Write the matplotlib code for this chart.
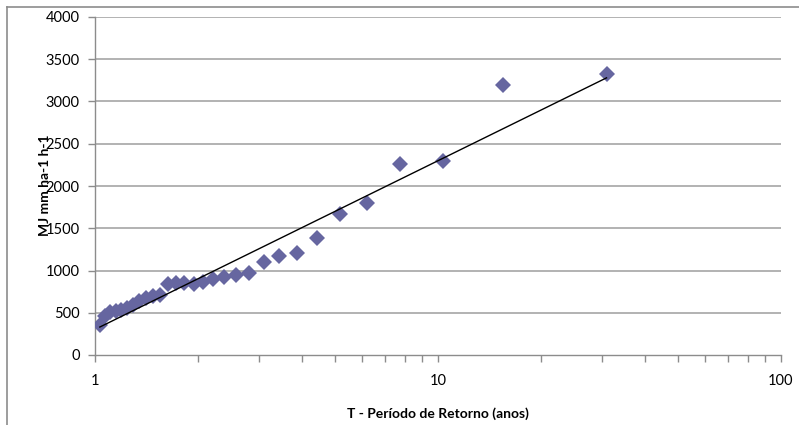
import matplotlib
matplotlib.use("Agg")
import matplotlib.pyplot as plt
from matplotlib.lines import Line2D
from matplotlib.ticker import FixedLocator, NullFormatter, LogLocator
import numpy as np

# Return periods (anos) and erosivity values (MJ mm ha-1 h-1)
return_period = [31.0, 15.5, 10.33, 7.75, 6.2, 5.17, 4.43, 3.875, 3.44, 3.1,
                 2.82, 2.58, 2.38, 2.21, 2.07, 1.94, 1.82, 1.72, 1.63, 1.55,
                 1.476, 1.409, 1.348, 1.29, 1.24, 1.19, 1.148, 1.107, 1.069, 1.033]
erosivity = [3320, 3195, 2295, 2265, 1795, 1665, 1380, 1210, 1170, 1105,
             965, 945, 925, 900, 860, 845, 850, 855, 845, 715,
             695, 670, 635, 590, 555, 530, 520, 505, 460, 355]

# Trend line (logarithmic fit) end points
trend_T = [1.033, 31.0]
trend_vals = [331, 3280]

y_ticks = [0, 500, 1000, 1500, 2000, 2500, 3000, 3500, 4000]
x_ticks = [1, 10, 100]
x_tick_labels = ["1", "10", "100"]

plt.rcParams['font.family'] = ['Lato', 'DejaVu Sans']

fig = plt.figure(figsize=(7.99, 4.25), dpi=100)
ax = fig.add_axes([95/799, 1-355/425, (781-95)/799, (355-17)/425])

ax.set_xscale('log')
ax.set_xlim(1, 100)
ax.set_ylim(0, 4000)

grid_color = '#a6a6a6'
for v in y_ticks[1:]:
    ax.axhline(v, color=grid_color, lw=1.2, zorder=1)

ax.plot(return_period, erosivity, linestyle='none', marker='D', markersize=8.5,
        color='#6666a0', markeredgewidth=0, zorder=3)
ax.plot(trend_T, trend_vals, color='black', lw=1.0, zorder=4)

ax.set_yticks(y_ticks)
ax.set_yticklabels([str(v) for v in y_ticks])
ax.xaxis.set_major_locator(FixedLocator(x_ticks))
ax.set_xticklabels(x_tick_labels)
ax.xaxis.set_minor_locator(LogLocator(base=10, subs=np.arange(2, 10)))
ax.xaxis.set_minor_formatter(NullFormatter())

for s in ['top', 'right']:
    ax.spines[s].set_visible(False)
for s in ['left', 'bottom']:
    ax.spines[s].set_color('#8c8c8c')
    ax.spines[s].set_linewidth(1.0)

ax.tick_params(axis='y', which='major', direction='out', length=5, width=1,
               color='#8c8c8c', pad=6, labelsize=10.5, labelcolor='black')
ax.tick_params(axis='x', which='both', direction='out', length=5, width=1,
               color='#8c8c8c', pad=9, labelsize=10.5, labelcolor='black')

ax.set_xlabel('T - Período de Retorno (anos)', fontsize=10, fontweight='bold')
ax.xaxis.set_label_coords(0.5, -0.155)
ax.set_ylabel('MJ mm ha-1 h-1', fontsize=10, fontweight='bold')
ax.yaxis.set_label_coords(-0.064, 0.503)

# chart area border (partially visible)
fig.add_artist(Line2D([6.5/799, 6.5/799], [0, 1-6.5/425], transform=fig.transFigure,
                      color='#8c8c8c', lw=1.2))
fig.add_artist(Line2D([6.5/799, 1], [1-6.5/425, 1-6.5/425], transform=fig.transFigure,
                      color='#8c8c8c', lw=1.2))

fig.savefig('out.png', dpi=100)
